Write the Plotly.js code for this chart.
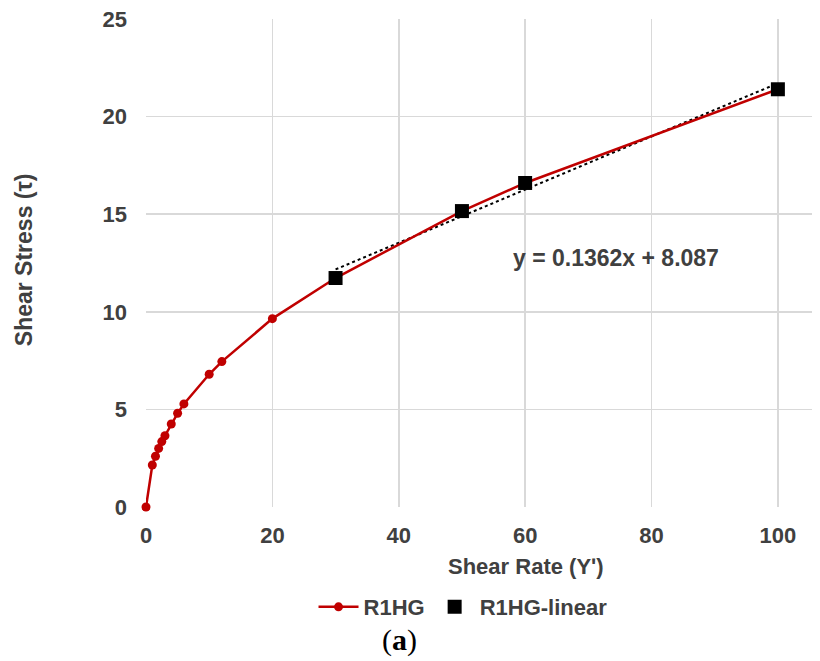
<!DOCTYPE html>
<html>
<head>
<meta charset="utf-8">
<script src="https://cdn.plot.ly/plotly-3.0.1.min.js"></script>
<style>html,body{margin:0;padding:0;background:#fff;}#chart{width:820px;height:661px;}</style>
</head>
<body>
<div id="chart"></div>
<script>
// Data
const shearRate = [0, 1, 1.5, 2, 2.5, 3, 4, 5, 6, 10, 12, 20, 30, 50, 60, 100];
const shearStress = [0, 2.15, 2.6, 3.0, 3.35, 3.65, 4.25, 4.8, 5.28, 6.8, 7.45, 9.65, 11.73, 15.16, 16.6, 21.4];
const linearRate = [30, 50, 60, 100];
const linearStress = [11.73, 15.16, 16.6, 21.4];
const fitSlope = 0.1362;
const fitIntercept = 8.087;
const fitLabel = "y = 0.1362x + 8.087";
const xTicks = [0, 20, 40, 60, 80, 100];
const yTicks = [0, 5, 10, 15, 20, 25];
const xTitle = 'Shear Rate (Y\u02B9)';
const yTitle = 'Shear Stress (\u03C4)';
const panelLabel = '(<b>a</b>)';

const trendX = [linearRate[0], linearRate[linearRate.length - 1]];
const trendY = trendX.map(x => fitSlope * x + fitIntercept);

const txt = '#404040';
const fam = 'Arial, "Liberation Sans", sans-serif';
const fontBold = {family: fam, size: 22, color: txt, weight: 'bold'};
const fontTick = {family: fam, size: 22, color: txt, weight: 'bold'};

const traces = [
  {
    x: trendX, y: trendY, mode: 'lines', showlegend: false, hoverinfo: 'skip',
    line: {color: '#000', width: 2, dash: 'dot'}
  },
  {
    x: shearRate, y: shearStress, mode: 'lines+markers', name: 'R1HG',
    line: {color: '#c00000', width: 2.5},
    marker: {color: '#c00000', size: 9, symbol: 'circle'},
    cliponaxis: false
  },
  {
    x: linearRate, y: linearStress, mode: 'markers', name: 'R1HG-linear',
    marker: {color: '#000', size: 14, symbol: 'square'},
    cliponaxis: false
  }
];

const layout = {
  width: 820, height: 661,
  margin: {l: 146, r: 8, t: 19, b: 154},
  paper_bgcolor: '#fff', plot_bgcolor: '#fff',
  showlegend: true,
  legend: {
    orientation: 'h', x: 0.476, xanchor: 'center', xref: 'paper',
    y: -0.205, yanchor: 'middle',
    font: fontBold, itemwidth: 40, traceorder: 'normal'
  },
  xaxis: {
    range: [0, 105.4], tickvals: xTicks, ticktext: xTicks.map(String),
    showgrid: true, gridcolor: '#d9d9d9', gridwidth: 1.5,
    zeroline: false, showline: false, ticks: '',
    ticklabelstandoff: 13,
    tickfont: fontTick
  },
  yaxis: {
    range: [0, 25], tickvals: yTicks, ticktext: yTicks.map(String),
    showgrid: true, gridcolor: '#d9d9d9', gridwidth: 1.5,
    zeroline: false, showline: false, ticks: '',
    ticklabelstandoff: 18,
    tickfont: fontTick
  },
  annotations: [
    {
      x: 74.4, y: 12.76, xref: 'x', yref: 'y', text: fitLabel, showarrow: false,
      font: {family: fam, size: 23, color: txt, weight: 'bold'}
    },
    {
      x: 0.5706, y: -0.121, xref: 'paper', yref: 'paper', text: xTitle, showarrow: false,
      xanchor: 'center', yanchor: 'middle', font: fontBold
    },
    {
      x: -0.183, y: 0.506, xref: 'paper', yref: 'paper', text: yTitle, showarrow: false,
      textangle: -90, xanchor: 'center', yanchor: 'middle',
      font: {family: fam, size: 23, color: txt, weight: 'bold'}
    },
    {
      x: 0.381, y: -0.2725, xref: 'paper', yref: 'paper', text: panelLabel, showarrow: false,
      xanchor: 'center', yanchor: 'middle',
      font: {family: '"Liberation Serif", "DejaVu Serif", serif', size: 30, color: '#000'}
    }
  ]
};

Plotly.newPlot('chart', traces, layout, {displayModeBar: false, staticPlot: true});
</script>
</body>
</html>
